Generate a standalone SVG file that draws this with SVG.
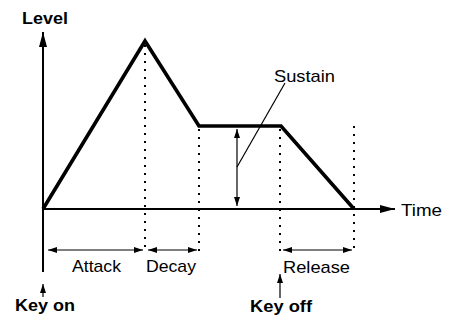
<svg xmlns="http://www.w3.org/2000/svg" width="452" height="321" viewBox="0 0 452 321">
<style>
text{font-family:"Liberation Sans",Arial,sans-serif;font-size:17px;fill:#000}
.b{font-weight:bold}
.axis{stroke:#000;stroke-width:2;fill:none}
.env{stroke:#000;stroke-width:3.6;fill:none;stroke-linejoin:miter}
.dot{stroke:#000;stroke-width:2;stroke-dasharray:2 6;fill:none}
.dim{stroke:#000;stroke-width:1.2;fill:none}
</style>
<defs>
<marker id="big" markerUnits="userSpaceOnUse" markerWidth="16" markerHeight="10" refX="15" refY="4" orient="auto"><path d="M0,0 L15,4 L0,8 Z" fill="#000"/></marker>
<marker id="sm" markerUnits="userSpaceOnUse" markerWidth="10" markerHeight="8" refX="9" refY="3" orient="auto-start-reverse"><path d="M0,0 L9,3 L0,6 Z" fill="#000"/></marker>
</defs>
<g id="axes">
<line class="axis" x1="43" y1="272" x2="43" y2="32" marker-end="url(#big)"/>
<line class="axis" x1="43" y1="209" x2="395" y2="209" marker-end="url(#big)"/>
</g>
<g id="connectors">
<line class="dot" x1="145" y1="45" x2="145" y2="252"/>
<line class="dot" x1="199" y1="129" x2="199" y2="252"/>
<line class="dot" x1="280" y1="129" x2="280" y2="254"/>
<line class="dot" x1="354" y1="126" x2="354" y2="254"/>
<line class="dim" x1="48" y1="250" x2="143" y2="250" marker-start="url(#sm)" marker-end="url(#sm)"/>
<line class="dim" x1="148" y1="250" x2="197" y2="250" marker-start="url(#sm)" marker-end="url(#sm)"/>
<line class="dim" x1="283" y1="250" x2="352" y2="250" marker-start="url(#sm)" marker-end="url(#sm)"/>
<line class="dim" x1="237" y1="129" x2="237" y2="206" marker-start="url(#sm)" marker-end="url(#sm)"/>
<line class="dim" x1="285" y1="83" x2="237" y2="167"/>
<line class="dim" x1="43" y1="297" x2="43" y2="284" marker-end="url(#sm)"/>
<line class="dim" x1="280" y1="298" x2="280" y2="274" marker-end="url(#sm)"/>
</g>
<g id="envelope">
<polyline class="env" points="43,209 145,41 199,126 281,126 354,209"/>
</g>
<g id="labels">
<text class="b" x="22" y="24" textLength="46" lengthAdjust="spacingAndGlyphs">Level</text>
<text x="401" y="216" textLength="41" lengthAdjust="spacingAndGlyphs">Time</text>
<text x="274" y="82" textLength="61" lengthAdjust="spacingAndGlyphs">Sustain</text>
<text x="72" y="272" textLength="49" lengthAdjust="spacingAndGlyphs">Attack</text>
<text x="146" y="272" textLength="50" lengthAdjust="spacingAndGlyphs">Decay</text>
<text x="283" y="273" textLength="67" lengthAdjust="spacingAndGlyphs">Release</text>
<text class="b" x="15" y="311" textLength="60" lengthAdjust="spacingAndGlyphs">Key on</text>
<text class="b" x="250" y="312" textLength="62" lengthAdjust="spacingAndGlyphs">Key off</text>
</g>
</svg>
